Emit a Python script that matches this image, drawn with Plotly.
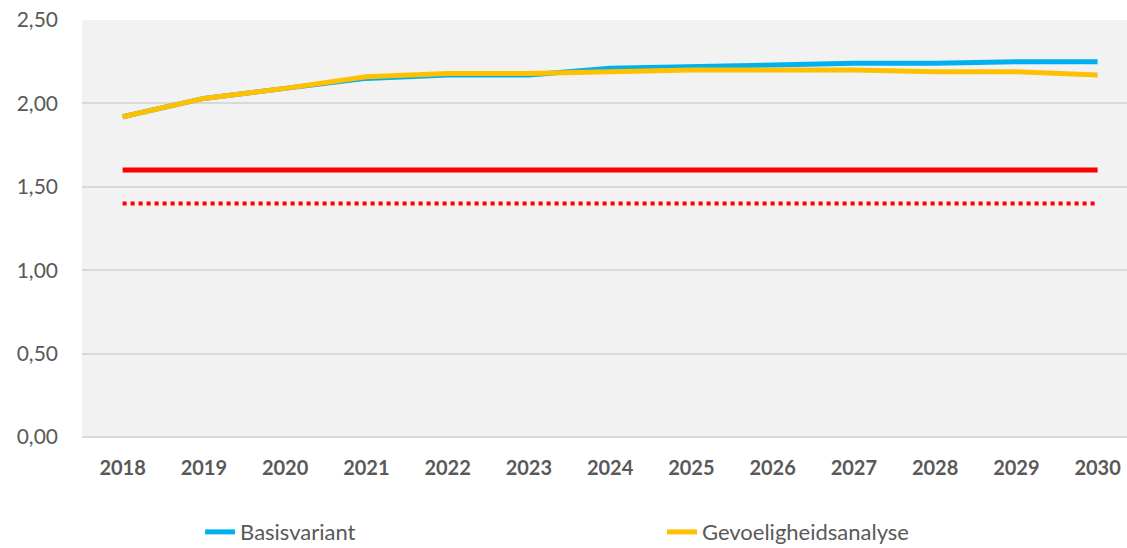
import plotly.graph_objects as go

years = [2018, 2019, 2020, 2021, 2022, 2023, 2024, 2025, 2026, 2027, 2028, 2029, 2030]
basis = [1.92, 2.03, 2.09, 2.15, 2.17, 2.17, 2.21, 2.22, 2.23, 2.24, 2.24, 2.25, 2.25]
gevoelig = [1.92, 2.03, 2.09, 2.16, 2.18, 2.18, 2.19, 2.20, 2.20, 2.20, 2.19, 2.19, 2.17]
norm_solid = [1.60] * len(years)
norm_dotted = [1.40] * len(years)

fig = go.Figure()
fig.add_trace(go.Scatter(x=years, y=norm_solid, mode="lines", showlegend=False,
                         line=dict(color="#ff0000", width=5)))
fig.add_trace(go.Scatter(x=years, y=norm_dotted, mode="lines", showlegend=False,
                         line=dict(color="#ff0000", width=4, dash="dot")))
fig.add_trace(go.Scatter(x=years, y=basis, mode="lines", name="Basisvariant",
                         line=dict(color="#00b0f0", width=5), legend="legend"))
fig.add_trace(go.Scatter(x=years, y=gevoelig, mode="lines", name="Gevoeligheidsanalyse",
                         line=dict(color="#ffc000", width=5), legend="legend2"))

# figure is a bit taller than the window so the legend doesn't push the margins
leg = dict(orientation="h", y=-0.228, yanchor="middle", xanchor="left",
           font=dict(size=22), bgcolor="rgba(0,0,0,0)")

fig.update_layout(
    width=1127, height=570,
    margin=dict(l=82, r=0, t=20, b=133),
    plot_bgcolor="#f2f2f2", paper_bgcolor="white",
    separators=",.",
    font=dict(family="Lato", color="#595959", size=20),
    xaxis=dict(range=[2017.5, 2030.362], tickmode="array", tickvals=years,
               ticktext=[f"<b>{y}</b>" for y in years], showgrid=False,
               zeroline=False, ticks="", ticklabelstandoff=17, tickfont=dict(size=20)),
    yaxis=dict(range=[0, 2.5], dtick=0.5, tickformat=".2f", gridcolor="#d9d9d9",
               gridwidth=1.5, zeroline=True, zerolinecolor="#d9d9d9", zerolinewidth=1.5,
               ticks="", ticklabelstandoff=23, tickfont=dict(size=21)),
    legend=dict(leg, x=0.113),
    legend2=dict(leg, x=0.555),
)

fig.write_html("out.html", config={"displayModeBar": False},
               post_script="document.body.style.margin='0';document.body.style.overflow='hidden';")
